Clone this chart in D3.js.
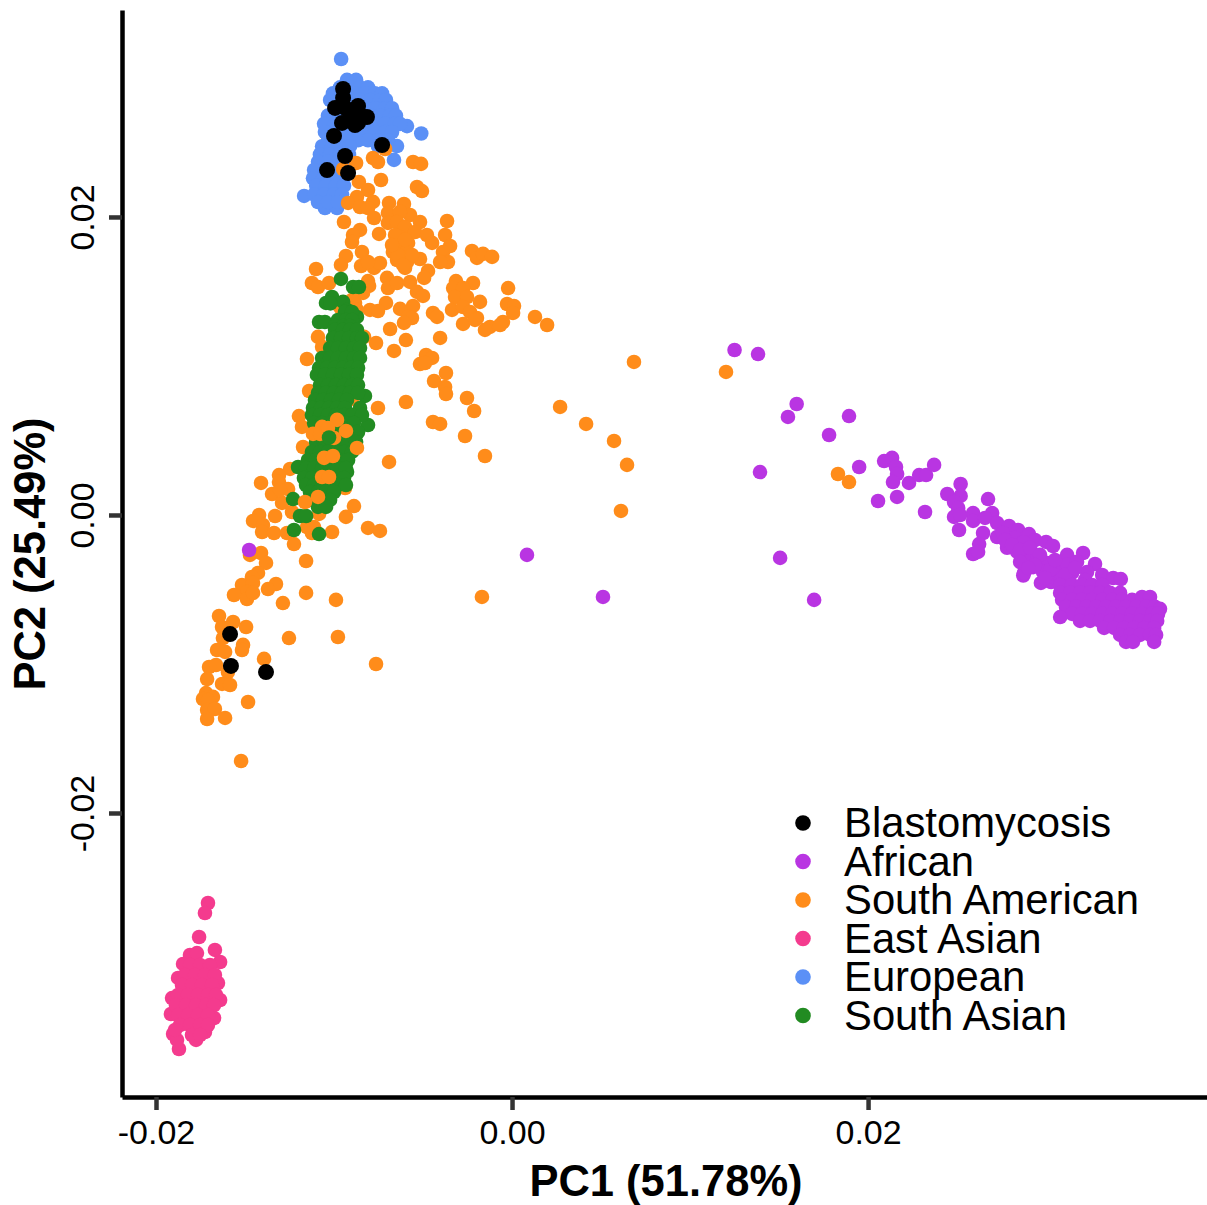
<!DOCTYPE html>
<html>

<head>
    <title>PCA</title>
    <script src="https://cdn.jsdelivr.net/npm/d3@7"></script>
    <style>
        body { margin: 0; background: #fff; }
        text { font-family: "Liberation Sans", Arial, sans-serif; }
    </style>
</head>

<body>
    <svg width="1207" height="1205" id="mainsvg" style="display: block;"></svg>
    <script>
        // all scores are PC value x 1000
        const blastomycosis = [[-9.49,28.59],[-9.49,27.99],[-9.94,27.32],[-8.65,27.45],[-8.15,26.71],[-9.55,26.31],[-8.65,26.31],
            [-9.10,27.05],[-9.10,26.51],[-8.54,26.85],[-9.38,27.32],[-8.82,26.17],[-10.0,25.44],[-7.30,24.83],[-9.38,24.09],[-10.39,23.15],[-9.21,22.95],
            [-15.84,-7.99],[-15.79,-10.13],[-13.82,-10.54]];

        const african = [[12.5,11.07],[13.82,10.8],[15.99,7.45],[15.5,6.58],[18.93,6.64],[17.81,5.37],[13.93,2.88],[19.5,3.22],
            [20.56,0.94],[0.84,-2.68],[5.11,-5.5],[15.06,-2.88],[16.97,-5.7],[-14.77,-2.35],
            [20.9,3.62],[21.35,3.83],[21.57,3.22],[21.63,2.75],[21.4,2.21],[22.3,2.15],[22.87,2.68],[23.26,2.68],[23.71,3.36],
            [21.63,1.21],[23.2,0.2],[25.2,2.08],[24.45,1.41],[25.2,1.28],[24.83,0.87],[26.74,1.07],[25.06,0.47],[24.83,-0.13],
            [25.17,0],[25.9,0.13],[25.9,-0.4],[26.97,0.13],[26.57,-0.2],[25.11,-1.01],[26.46,-1.21],[26.24,-1.95],[25.9,-2.62],
            [26.18,-2.48],[27.25,-0.54],[27.92,-0.74],[28.43,-1.01],[29.04,-1.28],[29.38,-1.68],[30.0,-1.81],[30.39,-2.08],[31.18,-2.68],
            [32.08,-2.55],[32.75,-3.29],[33.15,-4.03],[33.77,-4.23],[28.72,-4.06],[28.76,-3.89],[29.71,-4.56],[30.28,-4.5],
            [27.25,-1.48],[27.58,-1.21],[27.81,-2.2],[28.26,-1.55],[28.72,-1.81],[28.38,-2.48],[28.94,-2.68],[29.51,-2.82],[30.07,-3.22],
            [29.27,-3.50],[29.83,-3.83],[30.62,-3.69],[31.18,-3.35],[31.74,-3.15],[32.3,-3.83],[31.46,-3.89],[30.84,-4.36],
            [27.7,-1.68],[28.09,-2.01],[28.54,-2.35],[29.1,-2.2],[29.66,-2.68],[29.38,-3.36],[30.22,-3.69],[29.94,-4.23],[30.5,-3.02],
            [31.07,-4.03],[31.63,-3.56],[32.19,-4.36],[33.3,-5.03],[28.54,-3.15],[29.0,-3.56],
            [30.79,-4.7],[31.46,-4.7],[32.02,-4.7],[32.58,-4.7],[33.15,-4.7],
            [30.79,-5.23],[31.35,-5.23],[31.91,-5.23],[32.47,-5.23],[33.03,-5.23],[33.6,-5.23],[34.16,-5.23],
            [30.9,-5.7],[31.46,-5.7],[32.02,-5.7],[32.58,-5.7],[33.15,-5.7],[33.71,-5.7],[34.27,-5.7],[34.83,-5.7],[35.39,-5.5],[35.84,-5.5],
            [31.12,-6.17],[31.69,-6.17],[32.25,-6.17],[32.81,-6.17],[33.37,-6.17],[33.93,-6.17],[34.49,-6.17],[35.06,-6.17],[35.62,-6.17],[36.12,-6.17],[36.4,-6.3],
            [31.46,-6.64],[32.02,-6.64],[32.58,-6.64],[33.15,-6.64],[33.71,-6.64],[34.27,-6.64],[34.83,-6.64],[35.39,-6.64],[35.96,-6.64],[36.29,-6.64],
            [31.91,-7.11],[32.47,-7.11],[33.03,-7.11],[33.6,-7.11],[34.16,-7.11],[34.72,-7.11],[35.28,-7.11],[35.84,-7.11],[36.24,-7.11],
            [33.26,-7.58],[33.82,-7.58],[34.38,-7.58],[34.94,-7.58],[35.51,-7.58],[36.07,-7.58],
            [34.16,-8.05],[34.72,-8.05],[35.28,-8.05],[35.84,-8.05],[36.18,-8.05],
            [34.49,-8.52],[34.88,-8.52],[36.07,-8.52],[30.79,-6.85],[34.2,-4.3]];

        const southAmerican = [[-8.76,23.62],[-9.49,23.22],[-7.81,23.96],[-7.53,23.69],[-7.13,24.56],[-5.56,23.69],[-5.11,23.56],
            [-7.36,22.48],[-8.60,22.35],[-5.34,22.01],[-5.06,21.74],[-8.09,21.81],[-8.71,21.34],[-9.21,20.94],[-8.54,20.67],[-7.81,21.01],
            [-8.09,20.60],[-6.91,20.94],[-6.07,20.87],[-7.75,19.93],[-6.97,20.27],[-5.73,20.13],[-6.29,20.34],[-5.17,19.66],[-3.65,19.73],
            [-9.44,19.66],[-8.54,19.13],[-8.93,18.79],[-7.47,18.86],[-6.97,19.60],[-6.46,19.66],[-6.01,19.33],[-5.45,18.99],[-4.78,18.79],
            [-3.76,18.79],[-8.99,18.32],[-8.43,17.65],[-6.29,18.66],[-5.84,18.26],[-6.29,17.99],[-4.49,18.26],[-3.48,18.05],[-3.88,17.65],
            [-2.25,17.72],[-1.97,17.25],[-1.63,17.52],[-1.12,17.32],[-6.69,17.65],[-6.01,17.58],[-5.17,17.18],[-6.46,17.11],[-3.60,16.98],
            [-4.04,16.98],[-9.33,17.38],[-9.61,16.78],[-8.48,16.71],[-7.75,16.58],[-7.42,16.91],[-8.09,16.98],[-6.01,16.58],[-5.90,16.98],
            [-11.01,16.51],[-4.72,16.38],[-4.94,15.91],[-11.24,15.57],[-10.90,15.30],[-10.28,15.57],[-8.09,15.70],[-8.03,15.37],[-7.02,15.91],
            [-6.97,15.23],[-6.46,15.57],[-5.73,15.64],[-5.34,14.97],[-5.00,14.70],[-3.15,15.70],[-2.19,15.57],[-3.31,15.23],[-2.75,15.23],
            [-0.22,15.23],[-3.20,14.63],[-2.53,14.63],[-1.80,14.30],[-0.28,14.16],[0.11,14.03],[0.06,13.56],[-3.37,13.76],[-2.75,13.96],
            [-2.36,13.62],[-4.44,13.56],[-4.21,13.29],[-5.56,14.03],[-6.29,13.83],[-5.84,13.29],[-7.08,14.23],[-7.98,13.76],[-7.53,13.69],
            [-8.37,14.90],[-8.82,14.23],[1.29,13.29],[-1.97,13.22],[-0.51,12.95],[1.97,12.75],[-1.24,12.62],[-0.67,12.75],[-5.62,13.22],
            [-6.07,12.89],[-6.85,12.48],[-5.96,11.74],[-6.63,11.01],[-7.64,11.54],[-8.31,11.95],[-4.04,11.88],[-1.52,12.42],[-2.75,12.82],
            [-2.08,13.09],[-11.52,10.47],[-10.90,11.95],[-10.67,11.28],[-4.83,10.74],[-4.49,10.54],[-5.17,10.13],[-4.89,10.20],[-3.71,9.53],
            [-4.38,8.99],[-3.76,8.59],[-3.71,8.12],[-2.53,7.85],[-2.13,6.98],[-5.96,7.58],[-7.53,7.18],[-11.40,8.32],[-11.97,6.64],[-11.80,5.91],
            [-4.44,6.24],[-4.04,6.11],[-2.64,5.30],[-1.52,3.96],[-6.91,3.56],[-11.74,4.56],[-12.47,3.09],[-13.09,2.68],[-14.10,2.15],[-13.09,2.21],
            [-12.58,1.74],[-13.48,1.41],[-12.92,0.81],[-13.03,1.68],[-9.38,1.81],[-8.88,0.60],[-9.33,-0.13],[-10.84,0.07],[-12.36,0.20],[-13.31,-0.07],
            [-14.21,0],[-14.55,-0.40],[-13.99,-0.67],[-14.04,-1.14],[-13.37,-1.21],[-12.64,-1.21],[-11.52,-0.81],[-11.12,-0.81],[-11.24,-1.21],
            [-10.11,-1.14],[-8.09,-0.87],[-7.42,-1.07],[-12.25,-1.95],[-14.10,-2.55],[-14.72,-2.68],[-11.57,-3.09],[-13.82,-3.22],[-14.27,-3.89],
            [-14.61,-4.16],[-15.17,-4.70],[-14.55,-4.56],[-14.89,-5.17],[-15.62,-5.37],[-14.89,-5.64],[-14.55,-5.23],[-13.26,-4.63],[-13.71,-4.97],
            [-11.57,-5.23],[-12.87,-5.91],[-9.89,-5.70],[-16.46,-6.78],[-15.67,-7.18],[-14.94,-7.52],[-16.29,-7.52],[-16.24,-8.26],[-15.11,-8.72],
            [-15.17,-9.06],[-12.53,-8.26],[-9.78,-8.19],[-16.57,-9.06],[-16.12,-9.19],[-13.93,-9.66],[-17.02,-10.20],[-16.63,-10.07],[-15.96,-10.54],
            [-7.64,-10.00],[-17.13,-11.01],[-16.29,-11.34],[-15.84,-11.41],[-17.19,-11.95],[-16.80,-12.21],[-17.36,-12.35],[-17.08,-12.42],[-17.13,-13.09],
            [-16.69,-13.02],[-17.13,-13.69],[-16.12,-13.62],[-14.83,-12.55],[-15.22,-16.51],[6.85,10.27],[12.02,9.60],[2.70,7.25],[4.16,6.11],[5.73,4.97],
            [6.46,3.36],[18.31,2.75],[18.93,2.21],[6.12,0.27],[-1.69,-5.50],[-8.99,7.79],[-9.66,13.96],[-8.99,14.43],[-8.71,13.76],[-9.10,13.09],
            [-6.57,18.79],[-6.01,18.46],[-6.40,17.45],[-5.62,17.45],[-6.12,16.78],[-6.74,18.12]];

        // these orange points sit on top of the green cloud
        const southAmericanFront = [[-10.67,5.91],[-9.83,6.38],[-11.18,5.44],[-10.79,5.44],[-10.0,5.17],[-9.33,5.64],[-10.34,5.84],[-8.71,4.50],
            [-10.56,3.83],[-10.06,3.96],[-10.67,2.55],[-10.28,2.55],[-10.90,1.21],[-11.63,0.87]];

        const eastAsian = [[-17.08,-26.04],[-17.25,-26.71],[-17.58,-28.32],[-16.69,-29.19],[-16.40,-30.0],[-18.09,-29.53],[-17.70,-29.40],
            [-18.48,-30.13],[-18.76,-31.07],[-16.52,-31.41],[-16.40,-32.55],[-19.10,-32.42],[-19.16,-33.49],[-16.74,-33.76],[-19.04,-34.83],
            [-18.71,-35.84],[-18.82,-35.23],[-17.75,-35.23],[-17.25,-34.7],
            [-18.09,-30.2],[-17.53,-30.2],[-16.97,-30.2],[-18.37,-30.87],[-17.81,-30.87],[-17.25,-30.87],[-16.69,-30.87],
            [-18.54,-31.54],[-17.98,-31.54],[-17.42,-31.54],[-16.85,-31.54],[-18.76,-32.21],[-18.20,-32.21],[-17.64,-32.21],[-17.08,-32.21],[-16.63,-32.21],
            [-18.88,-32.89],[-18.31,-32.89],[-17.75,-32.89],[-17.19,-32.89],[-16.74,-32.89],[-18.76,-33.56],[-18.20,-33.56],[-17.64,-33.56],[-17.08,-33.56],
            [-18.65,-34.23],[-18.09,-34.23],[-17.53,-34.23],[-17.08,-34.23],[-18.93,-34.56],[-17.98,-34.9],[-17.53,-34.9]];

        const european = [[-9.6,30.6],[-5.1,25.6],[-5.9,26.1],[-6.46,24.76],[-6.63,23.83],[-11.68,21.41],[-10.51,20.6],[-9.83,20.6],
            [-9.27,29.2],[-8.76,29.2],
            [-9.66,28.7],[-9.10,28.7],[-8.54,28.7],[-8.09,28.7],
            [-10.06,28.3],[-9.38,28.3],[-8.82,28.3],[-8.26,28.3],[-7.70,28.3],[-7.30,28.3],
            [-10.22,27.85],[-9.66,27.85],[-9.10,27.85],[-8.54,27.85],[-7.98,27.85],[-7.42,27.85],[-7.08,27.85],
            [-9.94,27.3],[-9.38,27.3],[-8.82,27.3],[-8.26,27.3],[-7.70,27.3],[-7.13,27.3],[-6.74,27.3],
            [-10.34,26.8],[-9.66,26.8],[-9.10,26.8],[-8.54,26.8],[-7.98,26.8],[-7.42,26.8],[-6.85,26.8],[-6.52,26.8],
            [-10.56,26.25],[-9.94,26.25],[-9.38,26.25],[-8.82,26.25],[-8.26,26.25],[-7.70,26.25],[-7.13,26.25],[-6.57,26.25],[-6.29,26.25],
            [-10.51,25.7],[-9.94,25.7],[-9.38,25.7],[-8.82,25.7],[-8.26,25.7],[-7.70,25.7],[-7.13,25.7],[-6.74,25.7],
            [-10.34,25.15],[-9.78,25.15],[-9.21,25.15],[-8.65,25.15],[-8.09,25.15],[-7.53,25.15],[-6.97,25.15],
            [-10.67,24.75],[-10.11,24.75],[-9.55,24.75],[-9.10,24.75],[-7.53,24.75],[-7.13,24.75],
            [-10.79,24.2],[-10.22,24.2],[-9.66,24.2],[-9.16,24.2],
            [-10.9,23.7],[-10.34,23.7],[-9.78,23.7],[-9.27,23.7],
            [-11.12,23.15],[-10.56,23.15],[-10.0,23.15],[-9.44,23.15],
            [-11.18,22.6],[-10.62,22.6],[-10.06,22.6],[-9.49,22.6],
            [-11.0,22.1],[-10.45,22.1],[-9.89,22.1],[-9.44,22.1],
            [-11.12,21.5],[-10.56,21.5],[-10.0,21.5],[-9.55,21.5],
            [-10.9,21.0],[-10.34,21.0],[-9.78,21.0]];

        const southAsian = [[-9.61,15.84],[-8.93,15.30],[-8.60,15.30],[-10.11,14.63],[-10.45,14.23],[-9.49,14.30],[-9.27,13.76],[-10.84,12.95],
            [-10.51,12.95],[-9.49,12.95],[-8.71,13.29],[-12.30,1.07],[-11.91,-0.07],[-11.57,-0.07],[-12.25,-1.01],[-10.84,-1.28],[-9.27,2.89],
            [-8.09,6.04],[-8.26,7.99],[-12.02,3.22],[-10.2,14.2],
            [-9.38,13.62],[-8.99,13.62],[-9.78,13.09],[-9.33,13.09],[-8.99,13.09],[-9.94,12.68],[-9.49,12.68],[-9.10,12.68],
            [-9.94,12.42],[-9.49,12.42],[-9.10,12.42],[-8.71,12.42],
            [-10.06,11.88],[-9.61,11.88],[-9.16,11.88],[-8.71,11.88],[-8.43,11.88],
            [-10.22,11.21],[-9.78,11.21],[-9.33,11.21],[-8.88,11.21],[-8.54,11.21],
            [-10.67,10.54],[-10.22,10.54],[-9.78,10.54],[-9.33,10.54],[-8.88,10.54],[-8.54,10.54],
            [-10.84,9.87],[-10.39,9.87],[-9.94,9.87],[-9.49,9.87],[-9.04,9.87],[-8.65,9.87],
            [-10.96,9.40],[-10.51,9.40],[-10.06,9.40],[-9.61,9.40],[-9.16,9.40],[-8.71,9.40],
            [-10.79,8.72],[-10.34,8.72],[-9.89,8.72],[-9.44,8.72],[-8.99,8.72],[-8.65,8.72],
            [-10.90,8.19],[-10.45,8.19],[-10.0,8.19],[-9.55,8.19],[-9.10,8.19],[-8.65,8.19],
            [-11.07,7.72],[-10.62,7.72],[-10.17,7.72],[-9.72,7.72],[-9.27,7.72],
            [-11.18,7.18],[-10.73,7.18],[-10.28,7.18],[-9.83,7.18],[-9.38,7.18],[-8.54,7.18],
            [-11.24,6.71],[-10.79,6.71],[-10.34,6.71],[-9.89,6.71],[-9.44,6.71],[-8.99,6.71],[-8.43,6.71],
            [-11.12,6.17],[-10.67,6.17],[-10.22,6.17],[-9.78,6.17],[-9.33,6.17],[-8.88,6.17],
            [-10.90,5.57],[-10.45,5.57],[-10.0,5.57],[-9.55,5.57],[-9.10,5.57],[-8.65,5.57],
            [-11.01,4.90],[-10.56,4.90],[-10.11,4.90],[-9.66,4.90],[-9.21,4.90],[-8.76,4.90],
            [-11.24,4.23],[-10.79,4.23],[-10.34,4.23],[-9.89,4.23],[-9.44,4.23],[-8.99,4.23],
            [-11.46,3.69],[-11.01,3.69],[-10.56,3.69],[-10.11,3.69],[-9.66,3.69],[-9.21,3.69],
            [-11.57,3.15],[-11.12,3.15],[-10.67,3.15],[-10.22,3.15],[-9.78,3.15],[-9.33,3.15],
            [-11.69,2.48],[-11.24,2.48],[-10.79,2.48],[-10.34,2.48],[-9.89,2.48],[-9.44,2.48],
            [-11.57,2.01],[-11.12,2.01],[-10.67,2.01],[-10.22,2.01],[-9.78,2.01],[-9.33,2.01],
            [-11.35,1.54],[-10.90,1.54],[-10.45,1.54],[-10.0,1.54],
            [-11.24,1.01],[-10.67,1.01],[-10.22,1.01],[-10.90,0.54],[-10.45,0.54]];

        // the one green point that lands on the front orange ones
        const southAsianFront = [[-10.28,5.2]];

        const legendLabels = ['Blastomycosis', 'African', 'South American', 'East Asian', 'European', 'South Asian'];
        const legendColors = ['#000000', '#B935E2', '#FF8C1A', '#F43B8E', '#5B90F6', '#228B22'];
        const xTicks = [-20, 0, 20];
        const xTickLabels = ['-0.02', '0.00', '0.02'];
        const yTicks = [-20, 0, 20];
        const yTickLabels = ['-0.02', '0.00', '0.02'];
        const xAxisLabel = 'PC1 (51.78%)';
        const yAxisLabel = 'PC2 (25.49%)';

        const svg = d3.select('#mainsvg');
        const width = +svg.attr('width');
        const height = +svg.attr('height');
        const margin = { top: 10, right: 0, bottom: 108, left: 122 };

        const xScale = d3.scaleLinear().domain([-21.91, 39.04]).range([margin.left, width - margin.right]);
        const yScale = d3.scaleLinear().domain([-39.06, 33.89]).range([height - margin.bottom, margin.top]);

        // draw order matters, later groups cover earlier ones
        const layers = [
            { data: european, color: legendColors[4], r: 7.3 },
            { data: southAmerican, color: legendColors[2], r: 7.3 },
            { data: southAsian, color: legendColors[5], r: 7.3 },
            { data: southAmericanFront, color: legendColors[2], r: 7.3 },
            { data: southAsianFront, color: legendColors[5], r: 7.3 },
            { data: eastAsian, color: legendColors[3], r: 7.3 },
            { data: african, color: legendColors[1], r: 7.3 },
            { data: blastomycosis, color: legendColors[0], r: 8 }
        ];

        const pointsGroup = svg.append('g').attr('id', 'points');
        layers.forEach(layer => {
            pointsGroup.append('g').selectAll('circle').data(layer.data).join('circle')
                .attr('cx', d => xScale(d[0]))
                .attr('cy', d => yScale(d[1]))
                .attr('r', layer.r)
                .attr('fill', layer.color);
        });

        const xAxis = d3.axisBottom(xScale).tickValues(xTicks)
            .tickFormat((d, i) => xTickLabels[i]).tickSizeInner(13).tickSizeOuter(0);
        const yAxis = d3.axisLeft(yScale).tickValues(yTicks)
            .tickFormat((d, i) => yTickLabels[i]).tickSizeInner(13).tickSizeOuter(0);

        const xAxisGroup = svg.append('g').call(xAxis)
            .attr('transform', `translate(0, ${height - margin.bottom})`);
        const yAxisGroup = svg.append('g').call(yAxis)
            .attr('transform', `translate(${margin.left}, 0)`);

        [xAxisGroup, yAxisGroup].forEach(a => {
            a.select('.domain').attr('stroke', '#000').attr('stroke-width', 4.5);
            a.selectAll('.tick line').attr('stroke', '#333').attr('stroke-width', 4.5);
            a.selectAll('.tick text').attr('font-size', 34).attr('font-family', '"Liberation Sans", Arial, sans-serif').attr('fill', '#000');
        });
        xAxisGroup.selectAll('.tick text').attr('y', 47).attr('dy', 0);
        yAxisGroup.selectAll('.tick text')
            .attr('transform', 'rotate(-90)')
            .attr('x', 0).attr('y', -28).attr('dy', 0)
            .attr('text-anchor', 'middle');

        svg.append('text')
            .attr('x', 666).attr('y', 1196)
            .attr('text-anchor', 'middle')
            .attr('font-size', 43.5).attr('font-weight', 'bold')
            .text(xAxisLabel);
        svg.append('text')
            .attr('transform', 'translate(45, 554) rotate(-90)')
            .attr('text-anchor', 'middle')
            .attr('font-size', 43.5).attr('font-weight', 'bold')
            .text(yAxisLabel);

        const legend = svg.append('g').attr('id', 'legend').attr('transform', 'translate(803, 823)');
        legend.selectAll('circle').data(legendLabels).join('circle')
            .attr('cy', (d, i) => i * 38.5)
            .attr('r', 7.8)
            .attr('fill', (d, i) => legendColors[i]);
        legend.selectAll('text').data(legendLabels).join('text')
            .attr('x', 41)
            .attr('y', (d, i) => i * 38.5 + 14)
            .attr('font-size', 41.8)
            .text(d => d);
    </script>
</body>

</html>
